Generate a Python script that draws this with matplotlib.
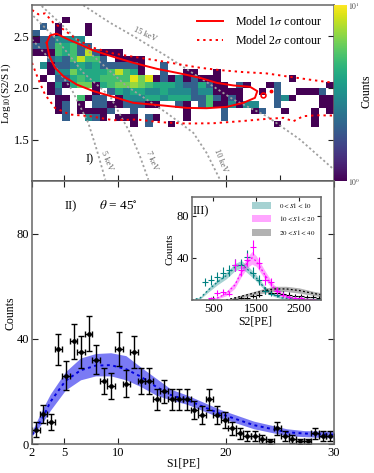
import numpy as np
import matplotlib
matplotlib.use('Agg')
import matplotlib.pyplot as plt
from matplotlib.colors import LogNorm
from matplotlib.patches import Patch

plt.rcParams['font.family'] = ['Liberation Serif', 'DejaVu Serif']
plt.rcParams['mathtext.fontset'] = 'stix'

# 2D histogram, one dict per row from top to bottom: column -> counts
hist_rows = [
    {4: 1},
    {1: 2, 3: 1, 7: 1},
    {0: 2, 3: 1, 7: 1},
    {0: 1, 1: 2, 2: 2, 3: 3, 4: 3, 5: 3, 6: 3},
    {0: 2, 1: 2, 2: 2, 3: 5, 4: 4, 5: 5, 6: 2, 7: 2},
    {0: 1, 1: 1, 2: 1, 3: 5, 4: 4, 5: 5, 6: 2, 7: 8, 8: 2, 9: 1, 10: 1, 11: 1},
    {2: 2, 3: 3, 4: 2, 5: 5, 6: 8, 7: 5, 8: 5, 9: 2, 11: 1, 12: 1, 13: 1, 14: 1},
    {1: 3, 2: 1, 3: 2, 4: 2, 5: 3, 6: 4, 7: 3, 8: 4, 9: 2, 10: 2, 11: 2, 12: 2, 13: 2, 14: 1, 17: 2},
    {2: 1, 3: 3, 4: 3, 5: 6, 6: 4, 7: 4, 8: 4, 9: 4, 10: 5, 11: 8, 12: 5, 13: 4, 14: 1, 17: 2, 20: 1, 21: 1, 24: 1},
    {1: 1, 3: 2, 4: 2, 5: 4, 6: 5, 7: 4, 8: 4, 9: 5, 10: 5, 11: 5, 12: 5, 13: 9, 14: 6, 15: 9, 16: 1, 17: 2,
     18: 1, 19: 3, 20: 1, 21: 2, 22: 1, 23: 1, 24: 1, 34: 1},
    {2: 1, 3: 3, 4: 1, 5: 4, 6: 6, 7: 6, 8: 1, 9: 4, 10: 5, 11: 6, 12: 6, 13: 7, 14: 6, 15: 5, 16: 4, 17: 4,
     18: 4, 19: 3, 20: 2, 21: 2, 22: 4, 23: 2, 24: 1, 25: 1, 27: 2, 28: 1, 31: 1, 32: 2, 39: 1},
    {2: 1, 3: 2, 8: 1, 10: 2, 11: 4, 12: 3, 13: 4, 14: 4, 15: 3, 16: 3, 17: 4, 18: 3, 19: 3, 20: 3, 21: 2,
     22: 3, 23: 3, 24: 1, 25: 1, 26: 1, 27: 1, 30: 1, 32: 2, 35: 1, 36: 1, 37: 1, 38: 2},
    {3: 1, 4: 1, 6: 5, 7: 1, 8: 2, 9: 2, 11: 1, 12: 3, 13: 3, 14: 3, 15: 4, 16: 4, 17: 3, 18: 4, 19: 4, 20: 4,
     21: 2, 22: 2, 23: 5, 24: 2, 25: 1, 26: 2, 27: 1, 32: 2, 33: 3, 34: 1, 38: 1, 39: 1},
    {3: 1, 4: 2, 6: 1, 8: 2, 9: 2, 10: 1, 11: 1, 12: 2, 13: 2, 14: 2, 15: 1, 16: 1, 19: 2, 20: 1, 22: 2, 23: 5,
     24: 1, 25: 1, 26: 3, 27: 1, 28: 3, 29: 3, 32: 2, 38: 1, 39: 1},
    {3: 1, 4: 2, 6: 1, 7: 1, 8: 1, 9: 1, 10: 2, 13: 2, 20: 1, 25: 2, 29: 1, 30: 2, 33: 1, 37: 1, 39: 1},
    {4: 2, 7: 3, 8: 2, 9: 1, 11: 1, 12: 1, 13: 1, 15: 2, 16: 1, 20: 1, 25: 2, 37: 1},
    {13: 1, 15: 2, 18: 1, 32: 1, 37: 1},
]

# model contours in the S1 / log10(S2/S1) plane
c1_s1 = [3.36, 3.67, 4.29, 5.21, 6.45, 7.69, 9.54, 11.39, 13.56, 15.72, 17.57, 19.12, 20.67, 22.21, 22.89,
         22.67, 21.59, 20.05, 18.19, 16.34, 14.18, 11.39, 9.54, 7.69, 6.14, 4.90, 4.13, 3.61, 3.36]
c1_log = [2.435, 2.506, 2.523, 2.474, 2.419, 2.361, 2.30, 2.242, 2.184, 2.139, 2.097, 2.048, 2.023, 2.01, 1.968,
          1.903, 1.855, 1.816, 1.803, 1.806, 1.829, 1.855, 1.913, 1.968, 2.032, 2.113, 2.194, 2.306, 2.435]
c2_up_s1 = [2, 2.59, 3.21, 3.98, 4.90, 6.14, 7.69, 9.54, 11.39, 13.56, 15.72, 17.57, 19.43, 21.59, 23.76, 25.92, 28.08, 30]
c2_up_log = [2.752, 2.71, 2.719, 2.629, 2.565, 2.468, 2.387, 2.332, 2.30, 2.265, 2.226, 2.194, 2.171, 2.152, 2.139,
             2.106, 2.074, 2.048]
c2_lo_s1 = [2, 2.59, 3.21, 4.13, 5.52, 7.38, 9.54, 11.70, 13.87, 16.34, 18.81, 21.28, 23.76, 25.30, 26.23, 27.15, 28.39, 30]
c2_lo_log = [2.242, 2.081, 1.935, 1.806, 1.742, 1.726, 1.687, 1.694, 1.668, 1.655, 1.658, 1.677, 1.70, 1.71, 1.677,
             1.726, 1.735, 1.732]

# constant energy lines
kev15_s1 = [6.76, 9.23, 11.39, 14.48, 17.57, 20.67, 23.76, 26.85, 30]
kev15_log = [2.797, 2.629, 2.5, 2.306, 2.097, 1.887, 1.726, 1.5, 1.21]
kev10_s1 = [2.90, 5.21, 7.69, 10.78, 14.48, 16.96, 18.19, 19.43]
kev10_log = [2.79, 2.565, 2.306, 2.016, 1.758, 1.565, 1.371, 1.113]
kev7_s1 = [2.12, 4.29, 6.76, 9.23, 11.09, 12.01, 12.79]
kev7_log = [2.694, 2.468, 2.145, 1.919, 1.565, 1.339, 1.113]
kev5_s1 = [2, 3.67, 5.68, 7.22, 8.0, 8.80]
kev5_log = [2.468, 2.274, 1.984, 1.661, 1.403, 1.113]

# S1 spectrum
s1_counts = [5.5, 11.5, 8.5, 36, 26, 39, 35, 42, 32, 24, 22, 36, 23, 35, 24, 24, 17, 20, 17, 17,
             17, 13, 11, 17, 11, 9, 6, 4, 3, 3, 2, 1, 6, 3, 2, 1, 1, 4, 3, 3]
s1_err = [3, 3.5, 3, 6, 5.5, 6.5, 6, 6.5, 5.5, 5, 5, 6.5, 5, 6, 5, 5, 4, 4.5, 4, 4,
          4, 3.5, 3.5, 4, 3.5, 3, 2.5, 2, 2, 2, 1.5, 1, 2.5, 2, 1.5, 1, 1, 2, 2, 2]
band_s1 = [2, 3, 3.7, 5.1, 6.5, 7.9, 9.3, 10.7, 12.1, 13.5, 14.9, 16.37, 19.46, 22.55, 25.6, 27.2, 30]
band_up = [4.9, 13.5, 19, 27.5, 32.7, 34.4, 34.7, 33.6, 29.2, 25, 20.8, 18.6, 13.1, 8.7, 5.8, 5.1, 4.8]
band_mid = [3.5, 10, 16, 24, 28, 29.8, 30, 28.5, 25.6, 21.8, 18.6, 16.7, 11.5, 7.2, 4.5, 4, 3.5]
band_lo = [3, 8.3, 12.8, 20.5, 24.4, 25.9, 25.9, 24.4, 21.8, 18.6, 16.7, 15.1, 10, 5.8, 3.2, 2.8, 2.3]

# inset S2 spectra
s2_x = [318, 457, 597, 736, 876, 1015, 1155, 1295, 1434, 1574, 1713, 1853, 1992, 2132, 2271, 2411, 2550, 2690, 2829, 2969]
teal_y = [17, 19, 22, 26, 28, 33, 33, 41, 26, 19, 9, 6, 5, 5, 3, 2, 2, 1, 1, 0.5]
magenta_y = [0, 1.6, 6.5, 8, 6, 33, 28, 38, 50, 35, 19, 17, 9, 5, 3, 2, 2, 1, 0.5, 0]
black_y = [0, 0, 0, 0, 0, 1, 2, 2, 4, 5, 9, 7, 7, 6, 5, 4, 4, 3, 3, 2]
teal_bx = [0, 200, 400, 600, 800, 1000, 1150, 1300, 1500, 1700, 1900, 2100, 2400, 3000]
teal_mid = [0, 2, 10, 17, 23, 31, 34, 29, 21, 11, 5, 2, 1, 0]
magenta_bx = [400, 600, 800, 1000, 1150, 1300, 1400, 1500, 1700, 1900, 2100, 2400, 3000]
magenta_mid = [0.5, 2, 6, 14, 26, 36, 40, 37, 24, 12, 5, 1, 0]
gray_bx = [800, 1000, 1300, 1600, 1900, 2200, 2500, 2800, 3000]
gray_mid = [0, 2, 5, 8, 10.5, 10.5, 9, 6.5, 5]
teal_w = [0, 1, 2, 2.5, 3, 3.5, 3.5, 3.5, 3, 2, 1.5, 1, 0.5, 0]
magenta_w = [0.5, 1, 2, 3, 4, 5, 6, 5, 4, 3, 2, 1, 0]
gray_w = [0, 1, 1.5, 2, 2.5, 2.5, 2.5, 2, 2]

W, H = 374.0, 473.0
SPINE = '#666666'


def px_axes(left, top, right, bottom):
    return fig.add_axes([left / W, 1 - bottom / H, (right - left) / W, (bottom - top) / H])


def px_text(x, y, s, **kw):
    fig.text(x / W, 1 - y / H, s, ha='center', va='center', **kw)


def style(ax, size=9):
    for s in ax.spines.values():
        s.set_color(SPINE)
        s.set_linewidth(1.1)
    ax.tick_params(direction='in', top=True, right=True, length=4, width=0.8, color='#222222',
                   labelsize=size, pad=2)


fig = plt.figure(figsize=(3.74, 4.73), dpi=100)

# panel I
ax1 = px_axes(32, 5, 334, 181)
counts = np.zeros((len(hist_rows), 40))
for i, row in enumerate(hist_rows):
    for col, val in row.items():
        counts[i, col] = val
x_edges = np.linspace(2, 30, 41)
y_edges = np.linspace(2.687, 2.687 - 17 * 0.0629, 18)
mesh = ax1.pcolormesh(x_edges, y_edges, np.ma.masked_equal(counts, 0), cmap='viridis',
                      norm=LogNorm(vmin=1, vmax=10))
for xs, ys in [(kev15_s1, kev15_log), (kev10_s1, kev10_log), (kev7_s1, kev7_log), (kev5_s1, kev5_log)]:
    ax1.plot(xs, ys, color='#a0a0a0', ls=(0, (1.2, 1.4)), lw=1.3)
ax1.plot(c1_s1, c1_log, color='red', lw=1.4, label=r'Model 1$\sigma$ contour')
ax1.plot(c2_up_s1, c2_up_log, color='red', ls=(0, (1.2, 2.0)), lw=1.4, label=r'Model 2$\sigma$ contour')
ax1.plot(c2_lo_s1, c2_lo_log, color='red', ls=(0, (1.2, 2.0)), lw=1.4)
ax1.plot([23.38], [1.935], 'o', mfc='none', mec='red', ms=3.5, mew=1.2)
ax1.plot([24.2], [1.968], 'o', color='red', ms=1.8)
ax1.set_xlim(2, 30)
ax1.set_ylim(1.1, 2.8)
ax1.set_xticks([5, 10, 15, 20, 25, 30])
ax1.set_xticklabels([])
ax1.set_yticks([1.5, 2.0, 2.5])
ax1.set_yticklabels(['1.5', '2.0', '2.5'])
style(ax1)
ax1.spines['bottom'].set_color('#222222')
ax1.tick_params(axis='x', top=False)
ax1.legend(loc='upper right', frameon=False, fontsize=8.6, handlelength=2.2, labelspacing=0.5,
           bbox_to_anchor=(0.985, 0.985), borderaxespad=0.2, handletextpad=1.0)
ax1.text(7.3, 1.31, 'I)', fontsize=9, ha='center', va='center')
ax1.text(8.95, 1.3, '5 keV', fontsize=6, color='#666666', rotation=-68, ha='center', va='center')
ax1.text(13.13, 1.3, '7 keV', fontsize=6, color='#666666', rotation=-68, ha='center', va='center')
ax1.text(19.43, 1.3, '10 keV', fontsize=6, color='#666666', rotation=-68, ha='center', va='center')
ax1.text(12.48, 2.515, '15 keV', fontsize=6, color='#666666', rotation=-25, ha='center', va='center')
px_text(6, 93, 'Log$_{10}$(S2/S1)', fontsize=8, rotation=90)

cax = px_axes(334, 5, 347, 181)
cb = fig.colorbar(mesh, cax=cax)
cb.set_ticks([1, 10])
cb.set_ticklabels(['$10^{0}$', '$10^{1}$'])
cb.ax.minorticks_off()
cb.ax.tick_params(labelsize=5.5, length=0, pad=1, labelcolor='#444444')
cb.outline.set_visible(False)
px_text(366, 91, 'Counts', fontsize=8.5, rotation=90)

# panel II
ax2 = px_axes(32, 181, 334, 444)
s1_x = np.linspace(2.35, 29.65, 40)
ax2.fill_between(band_s1, band_lo, band_up, color='#2222ee', alpha=0.6, lw=0)
ax2.plot(band_s1, band_mid, color='#0000dd', ls=(0, (1.5, 1.8)), lw=1.4)
ax2.errorbar(s1_x, s1_counts, xerr=0.35, yerr=s1_err, fmt='o', color='black', ms=2.4, lw=1.0,
             capsize=2.1, capthick=1.0)
ax2.set_xlim(2, 30)
ax2.set_ylim(0, 100)
ax2.set_xticks([2, 5, 10, 20, 30])
ax2.set_yticks([0, 40, 80])
style(ax2)
ax2.text(5.55, 90.5, 'II)', fontsize=9, ha='center', va='center')
ax2.text(10.0, 90.5, r'$\theta$ = 45$^{\circ}$', fontsize=9.5, ha='center', va='center')
px_text(183, 463, 'S1[PE]', fontsize=8.5)
px_text(10, 313, 'Counts', fontsize=8.5, rotation=90)

# panel III, inset
ax3 = px_axes(191.7, 196.7, 320.7, 300)
ax3.fill_between(teal_bx, np.array(teal_mid) - np.array(teal_w), np.array(teal_mid) + np.array(teal_w),
                 color='teal', alpha=0.35, lw=0)
ax3.fill_between(magenta_bx, np.array(magenta_mid) - np.array(magenta_w), np.array(magenta_mid) + np.array(magenta_w),
                 color='magenta', alpha=0.35, lw=0)
ax3.fill_between(gray_bx, np.array(gray_mid) - np.array(gray_w), np.array(gray_mid) + np.array(gray_w),
                 color='#666666', alpha=0.5, lw=0)
ax3.plot(teal_bx, teal_mid, color='teal', ls=(0, (1.5, 1.8)), lw=0.9)
ax3.plot(magenta_bx, magenta_mid, color='magenta', ls=(0, (1.5, 1.8)), lw=0.9)
ax3.plot(gray_bx, gray_mid, color='black', ls=(0, (1.5, 1.8)), lw=0.9)
for ys, col in [(black_y, 'black'), (teal_y, 'teal'), (magenta_y, 'magenta')]:
    ys = np.array(ys, dtype=float)
    ax3.errorbar(s2_x, ys, xerr=69, yerr=np.sqrt(ys), fmt='none', ecolor=col, lw=0.8)
ax3.set_xlim(0, 3000)
ax3.set_ylim(0, 98)
ax3.set_xticks([500, 1500, 2500])
ax3.set_yticks([40, 80])
style(ax3)
ax3.tick_params(length=3)
ax3.text(30, 84, 'III)', fontsize=9, va='center')
px_text(255, 321, 'S2[PE]', fontsize=8.5)
px_text(170, 249, 'Counts', fontsize=8, rotation=90)
handles = [Patch(color='teal', alpha=0.35, lw=0), Patch(color='magenta', alpha=0.35, lw=0),
           Patch(color='#666666', alpha=0.5, lw=0)]
ax3.legend(handles, ['$0 < S1 < 10$', '$10 < S1 < 20$', '$20 < S1 < 40$'], loc='upper right', frameon=False,
           fontsize=5, handlelength=2.8, handleheight=1.2, labelspacing=0.75, borderaxespad=0.3,
           bbox_to_anchor=(1.0, 1.0), handletextpad=1.2)

fig.savefig('out.png', dpi=100)
